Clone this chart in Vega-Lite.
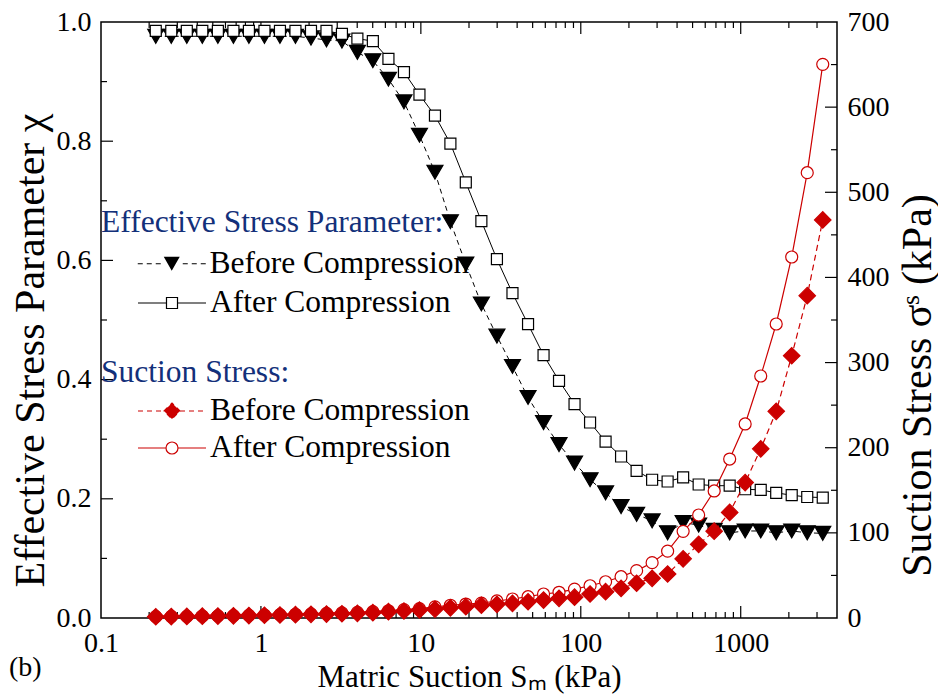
{
  "$schema": "https://vega.github.io/schema/vega-lite/v6.json",
  "width": 736,
  "height": 596,
  "autosize": {"type": "none"},
  "padding": {"left": 101, "top": 22, "right": 101, "bottom": 79},
  "title": {"text": "(b)", "orient": "bottom", "anchor": "start", "frame": "bounds", "font": "Liberation Serif", "fontSize": 28, "fontWeight": "normal", "color": "black", "offset": -38},
  "config": {
    "view": {"stroke": "black", "strokeWidth": 1.5},
    "axis": {"domain": false, "ticks": false, "grid": false, "labelFont": "Liberation Serif", "labelFontSize": 28, "labelColor": "black", "titleFont": "Liberation Serif", "titleFontSize": 31, "titleFontWeight": "normal", "titleColor": "black", "labelFlush": false, "labelOverlap": false},
    "legend": {"labelFont": "Liberation Serif", "labelFontSize": 31.5, "labelColor": "black", "titleFont": "Liberation Serif", "titleFontSize": 31.5, "titleFontWeight": "normal", "titleColor": "#13307a", "padding": 0, "symbolSize": 900, "symbolOffset": 55, "labelOffset": 22, "symbolStrokeWidth": 1.2, "symbolOpacity": 1, "titleLimit": 800, "labelLimit": 800, "orient": "none"}
  },
  "datasets": {
    "main": [
      {"s":0.220,"chiB":0.976,"chiA":0.985,"sigB":1.5,"sigA":1.6},
      {"s":0.275,"chiB":0.976,"chiA":0.985,"sigB":1.7,"sigA":1.8},
      {"s":0.344,"chiB":0.976,"chiA":0.985,"sigB":1.9,"sigA":2.0},
      {"s":0.430,"chiB":0.976,"chiA":0.985,"sigB":2.1,"sigA":2.3},
      {"s":0.538,"chiB":0.976,"chiA":0.985,"sigB":2.3,"sigA":2.5},
      {"s":0.673,"chiB":0.976,"chiA":0.985,"sigB":2.6,"sigA":2.8},
      {"s":0.841,"chiB":0.976,"chiA":0.985,"sigB":2.9,"sigA":3.1},
      {"s":1.052,"chiB":0.976,"chiA":0.985,"sigB":3.2,"sigA":3.5},
      {"s":1.315,"chiB":0.976,"chiA":0.985,"sigB":3.5,"sigA":3.9},
      {"s":1.644,"chiB":0.976,"chiA":0.985,"sigB":3.9,"sigA":4.4},
      {"s":2.056,"chiB":0.973,"chiA":0.985,"sigB":4.3,"sigA":4.9},
      {"s":2.570,"chiB":0.970,"chiA":0.985,"sigB":4.6,"sigA":5.4},
      {"s":3.21,"chiB":0.968,"chiA":0.980,"sigB":5.0,"sigA":6.0},
      {"s":4.01,"chiB":0.949,"chiA":0.972,"sigB":5.5,"sigA":6.7},
      {"s":5.01,"chiB":0.935,"chiA":0.968,"sigB":6.3,"sigA":7.5},
      {"s":6.27,"chiB":0.904,"chiA":0.938,"sigB":7.4,"sigA":8.5},
      {"s":7.84,"chiB":0.866,"chiA":0.916,"sigB":8.2,"sigA":9.8},
      {"s":9.80,"chiB":0.810,"chiA":0.878,"sigB":9.4,"sigA":11.0},
      {"s":12.25,"chiB":0.748,"chiA":0.843,"sigB":10.3,"sigA":13.0},
      {"s":15.3,"chiB":0.665,"chiA":0.796,"sigB":12.0,"sigA":15.0},
      {"s":19.1,"chiB":0.594,"chiA":0.731,"sigB":13.3,"sigA":16.4},
      {"s":23.9,"chiB":0.527,"chiA":0.666,"sigB":15.0,"sigA":17.5},
      {"s":29.9,"chiB":0.473,"chiA":0.602,"sigB":16.1,"sigA":20.0},
      {"s":37.4,"chiB":0.422,"chiA":0.545,"sigB":17.2,"sigA":22.3},
      {"s":46.8,"chiB":0.370,"chiA":0.493,"sigB":19.1,"sigA":25.0},
      {"s":58.5,"chiB":0.328,"chiA":0.441,"sigB":21.1,"sigA":28.2},
      {"s":73.1,"chiB":0.291,"chiA":0.398,"sigB":23.1,"sigA":30.2},
      {"s":91.4,"chiB":0.260,"chiA":0.359,"sigB":24.5,"sigA":34.0},
      {"s":114.3,"chiB":0.232,"chiA":0.328,"sigB":28.2,"sigA":37.9},
      {"s":142.9,"chiB":0.210,"chiA":0.296,"sigB":30.9,"sigA":42.6},
      {"s":178.6,"chiB":0.187,"chiA":0.271,"sigB":34.9,"sigA":48.5},
      {"s":223.4,"chiB":0.174,"chiA":0.247,"sigB":40.8,"sigA":55.6},
      {"s":279.3,"chiB":0.163,"chiA":0.232,"sigB":46.6,"sigA":65.0},
      {"s":349.1,"chiB":0.143,"chiA":0.229,"sigB":51.7,"sigA":78.5},
      {"s":436.5,"chiB":0.160,"chiA":0.236,"sigB":69.5,"sigA":101.8},
      {"s":545.8,"chiB":0.156,"chiA":0.224,"sigB":86.5,"sigA":121.0},
      {"s":682.3,"chiB":0.147,"chiA":0.222,"sigB":102.0,"sigA":149.2},
      {"s":853.1,"chiB":0.143,"chiA":0.222,"sigB":124.0,"sigA":186.7},
      {"s":1066,"chiB":0.146,"chiA":0.216,"sigB":159.0,"sigA":227.9},
      {"s":1334,"chiB":0.146,"chiA":0.215,"sigB":198.7,"sigA":284.2},
      {"s":1667,"chiB":0.143,"chiA":0.210,"sigB":242.7,"sigA":345.3},
      {"s":2084,"chiB":0.146,"chiA":0.206,"sigB":308.0,"sigA":424.0},
      {"s":2606,"chiB":0.143,"chiA":0.203,"sigB":378.6,"sigA":523.0},
      {"s":3258,"chiB":0.142,"chiA":0.202,"sigB":467.5,"sigA":650.3}
    ],
    "xMajor": [{"t":1},{"t":10},{"t":100},{"t":1000}],
    "xMinor": [{"t":0.2},{"t":0.3},{"t":0.4},{"t":0.5},{"t":0.6},{"t":0.7},{"t":0.8},{"t":0.9},{"t":2},{"t":3},{"t":4},{"t":5},{"t":6},{"t":7},{"t":8},{"t":9},{"t":20},{"t":30},{"t":40},{"t":50},{"t":60},{"t":70},{"t":80},{"t":90},{"t":200},{"t":300},{"t":400},{"t":500},{"t":600},{"t":700},{"t":800},{"t":900},{"t":2000},{"t":3000}],
    "chiMajor": [{"t":0.2},{"t":0.4},{"t":0.6},{"t":0.8}],
    "chiMinor": [{"t":0.1},{"t":0.3},{"t":0.5},{"t":0.7},{"t":0.9}],
    "sigMajor": [{"t":100},{"t":200},{"t":300},{"t":400},{"t":500},{"t":600}],
    "sigMinor": [{"t":50},{"t":150},{"t":250},{"t":350},{"t":450},{"t":550},{"t":650}]
  },
  "data": {"name": "main"},
  "resolve": {"scale": {"y": "independent"}, "axis": {"x": "independent", "y": "independent"}},
  "layer": [
    {
      "data": {"name": "xMajor"},
      "mark": {"type": "bar", "size": 1.2, "color": "black"},
      "encoding": {
        "x": {"field": "t", "type": "quantitative", "scale": {"type": "log", "domain": [0.1, 4000], "nice": false, "padding": 0}, "axis": null},
        "y": {"datum": 0, "type": "quantitative", "scale": {"domain": [0, 1], "nice": false, "zero": false, "padding": 0}, "axis": null},
        "y2": {"datum": 0.0201}
      }
    },
    {
      "data": {"name": "xMajor"},
      "mark": {"type": "bar", "size": 1.2, "color": "black"},
      "encoding": {
        "x": {"field": "t", "type": "quantitative", "scale": {"type": "log", "domain": [0.1, 4000], "nice": false, "padding": 0}, "axis": null},
        "y": {"datum": 0.9799, "type": "quantitative", "scale": {"domain": [0, 1], "nice": false, "zero": false, "padding": 0}, "axis": null},
        "y2": {"datum": 1}
      }
    },
    {
      "data": {"name": "xMinor"},
      "mark": {"type": "bar", "size": 1.2, "color": "black"},
      "encoding": {
        "x": {"field": "t", "type": "quantitative", "scale": {"type": "log", "domain": [0.1, 4000], "nice": false, "padding": 0}, "axis": null},
        "y": {"datum": 0, "type": "quantitative", "scale": {"domain": [0, 1], "nice": false, "zero": false, "padding": 0}, "axis": null},
        "y2": {"datum": 0.0101}
      }
    },
    {
      "data": {"name": "xMinor"},
      "mark": {"type": "bar", "size": 1.2, "color": "black"},
      "encoding": {
        "x": {"field": "t", "type": "quantitative", "scale": {"type": "log", "domain": [0.1, 4000], "nice": false, "padding": 0}, "axis": null},
        "y": {"datum": 0.9899, "type": "quantitative", "scale": {"domain": [0, 1], "nice": false, "zero": false, "padding": 0}, "axis": null},
        "y2": {"datum": 1}
      }
    },
    {
      "data": {"name": "chiMajor"},
      "mark": {"type": "bar", "size": 1.2, "color": "black"},
      "encoding": {
        "y": {"field": "t", "type": "quantitative", "scale": {"domain": [0, 1], "nice": false, "zero": false, "padding": 0}, "axis": null},
        "x": {"datum": 0.1, "type": "quantitative", "scale": {"type": "log", "domain": [0.1, 4000], "nice": false, "padding": 0}, "axis": null},
        "x2": {"datum": 0.11885}
      }
    },
    {
      "data": {"name": "chiMinor"},
      "mark": {"type": "bar", "size": 1.2, "color": "black"},
      "encoding": {
        "y": {"field": "t", "type": "quantitative", "scale": {"domain": [0, 1], "nice": false, "zero": false, "padding": 0}, "axis": null},
        "x": {"datum": 0.1, "type": "quantitative", "scale": {"type": "log", "domain": [0.1, 4000], "nice": false, "padding": 0}, "axis": null},
        "x2": {"datum": 0.10902}
      }
    },
    {
      "data": {"name": "sigMajor"},
      "mark": {"type": "bar", "size": 1.2, "color": "black"},
      "encoding": {
        "y": {"field": "t", "type": "quantitative", "scale": {"domain": [0, 700], "nice": false, "zero": false, "padding": 0}, "axis": null},
        "x": {"datum": 3365.6, "type": "quantitative", "scale": {"type": "log", "domain": [0.1, 4000], "nice": false, "padding": 0}, "axis": null},
        "x2": {"datum": 4000}
      }
    },
    {
      "data": {"name": "sigMinor"},
      "mark": {"type": "bar", "size": 1.2, "color": "black"},
      "encoding": {
        "y": {"field": "t", "type": "quantitative", "scale": {"domain": [0, 700], "nice": false, "zero": false, "padding": 0}, "axis": null},
        "x": {"datum": 3669, "type": "quantitative", "scale": {"type": "log", "domain": [0.1, 4000], "nice": false, "padding": 0}, "axis": null},
        "x2": {"datum": 4000}
      }
    },
    {
      "mark": {"type": "line", "color": "black", "strokeWidth": 1, "strokeDash": [5, 4]},
      "encoding": {
        "x": {"field": "s", "type": "quantitative", "scale": {"type": "log", "domain": [0.1, 4000], "nice": false, "padding": 0},
          "axis": {"orient": "bottom", "title": "Matric Suction Sₘ (kPa)", "values": [0.1, 1, 10, 100, 1000],
            "labelExpr": "format(datum.value, '~g')", "labelPadding": 11, "titlePadding": 5}},
        "y": {"field": "chiB", "type": "quantitative", "scale": {"domain": [0, 1], "nice": false, "zero": false, "padding": 0},
          "axis": {"orient": "left", "title": "Effective Stress Parameter χ", "values": [0, 0.2, 0.4, 0.6, 0.8, 1.0],
            "format": ".1f", "labelPadding": 10, "titleFontSize": 42, "titleX": -71, "titleY": 328, "titleBaseline": "middle", "titleAngle": -90}}
      }
    },
    {
      "mark": {"type": "line", "color": "black", "strokeWidth": 1},
      "encoding": {
        "x": {"field": "s", "type": "quantitative", "scale": {"type": "log", "domain": [0.1, 4000], "nice": false, "padding": 0}, "axis": null},
        "y": {"field": "chiA", "type": "quantitative", "scale": {"domain": [0, 1], "nice": false, "zero": false, "padding": 0}, "axis": null}
      }
    },
    {
      "transform": [{"fold": ["chiB"], "as": ["key", "v"]}],
      "mark": {"type": "point", "filled": true, "shape": "M-1,-0.866L1,-0.866L0,0.866Z", "size": 256, "fill": "black", "stroke": "black", "strokeWidth": 1.2, "opacity": 1},
      "encoding": {
        "x": {"field": "s", "type": "quantitative", "scale": {"type": "log", "domain": [0.1, 4000], "nice": false, "padding": 0}, "axis": null},
        "y": {"field": "v", "type": "quantitative", "scale": {"domain": [0, 1], "nice": false, "zero": false, "padding": 0}, "axis": null},
        "opacity": {"field": "key", "type": "nominal", "scale": {"domain": ["chiB"], "range": [1, 1]},
          "legend": {"title": "Effective Stress Parameter:", "orient": "none", "legendX": 0, "legendY": 185, "titlePadding": 9.5,
            "labelExpr": "'Before Compression'",
            "symbolType": "M-2.267,-0.033H-1.933V0.033H-2.267ZM-1.667,-0.033H-1.333V0.033H-1.667ZM-1.067,-0.033H-0.733V0.033H-1.067ZM0.733,-0.033H1.067V0.033H0.733ZM1.333,-0.033H1.667V0.033H1.333ZM1.933,-0.033H2.267V0.033H1.933ZM-0.533,-0.462L0.533,-0.462L0,0.462Z",
            "symbolFillColor": "black", "symbolStrokeColor": "black", "symbolSize": 900, "symbolStrokeWidth": 0.6}}
      }
    },
    {
      "transform": [{"fold": ["chiA"], "as": ["key", "v"]}],
      "mark": {"type": "point", "filled": true, "shape": "square", "size": 121, "fill": "white", "strokeWidth": 1.2, "opacity": 1},
      "encoding": {
        "x": {"field": "s", "type": "quantitative", "scale": {"type": "log", "domain": [0.1, 4000], "nice": false, "padding": 0}, "axis": null},
        "y": {"field": "v", "type": "quantitative", "scale": {"domain": [0, 1], "nice": false, "zero": false, "padding": 0}, "axis": null},
        "stroke": {"field": "key", "type": "nominal", "scale": {"domain": ["chiA"], "range": ["black"]},
          "legend": {"title": null, "orient": "none", "legendX": 0, "legendY": 265,
            "labelExpr": "'After Compression'",
            "symbolType": "M-2.267,0H-0.367M0.367,0H2.267M-0.367,-0.367H0.367V0.367H-0.367Z",
            "symbolFillColor": "white", "symbolSize": 900, "symbolStrokeWidth": 1.2, "symbolOpacity": 1}}
      }
    },
    {
      "mark": {"type": "line", "color": "#cc0000", "strokeWidth": 1.2, "strokeDash": [6, 4]},
      "encoding": {
        "x": {"field": "s", "type": "quantitative", "scale": {"type": "log", "domain": [0.1, 4000], "nice": false, "padding": 0}, "axis": null},
        "y": {"field": "sigB", "type": "quantitative", "scale": {"domain": [0, 700], "nice": false, "zero": false, "padding": 0},
          "axis": {"orient": "right", "title": "Suction Stress σˢ (kPa)", "values": [0, 100, 200, 300, 400, 500, 600, 700],
            "format": "d", "labelPadding": 10, "titleFontSize": 42, "titleX": 80, "titleY": 363, "titleBaseline": "middle", "titleAngle": -90}}
      }
    },
    {
      "mark": {"type": "line", "color": "#cc0000", "strokeWidth": 1.2},
      "encoding": {
        "x": {"field": "s", "type": "quantitative", "scale": {"type": "log", "domain": [0.1, 4000], "nice": false, "padding": 0}, "axis": null},
        "y": {"field": "sigA", "type": "quantitative", "scale": {"domain": [0, 700], "nice": false, "zero": false, "padding": 0}, "axis": null}
      }
    },
    {
      "transform": [{"fold": ["sigA"], "as": ["key", "v"]}],
      "mark": {"type": "point", "filled": true, "shape": "circle", "size": 144, "stroke": "#cc0000", "strokeWidth": 1.2, "opacity": 1},
      "encoding": {
        "x": {"field": "s", "type": "quantitative", "scale": {"type": "log", "domain": [0.1, 4000], "nice": false, "padding": 0}, "axis": null},
        "y": {"field": "v", "type": "quantitative", "scale": {"domain": [0, 700], "nice": false, "zero": false, "padding": 0}, "axis": null},
        "fill": {"field": "key", "type": "nominal", "scale": {"domain": ["sigA"], "range": ["white"]},
          "legend": {"title": null, "orient": "none", "legendX": 0, "legendY": 410,
            "labelExpr": "'After Compression'",
            "symbolType": "M-2.267,0H-0.4M0.4,0H2.267M0.4,0C0.4,0.2209,0.2209,0.4,0,0.4C-0.2209,0.4,-0.4,0.2209,-0.4,0C-0.4,-0.2209,-0.2209,-0.4,0,-0.4C0.2209,-0.4,0.4,-0.2209,0.4,0Z",
            "symbolStrokeColor": "#cc0000", "symbolSize": 900, "symbolStrokeWidth": 1.2, "symbolOpacity": 1}}
      }
    },
    {
      "transform": [{"fold": ["sigB"], "as": ["key", "v"]}],
      "mark": {"type": "point", "filled": true, "shape": "M-1,0L0,-1L1,0L0,1Z", "size": 272, "stroke": "#cc0000", "strokeWidth": 1.2, "opacity": 1},
      "encoding": {
        "x": {"field": "s", "type": "quantitative", "scale": {"type": "log", "domain": [0.1, 4000], "nice": false, "padding": 0}, "axis": null},
        "y": {"field": "v", "type": "quantitative", "scale": {"domain": [0, 700], "nice": false, "zero": false, "padding": 0}, "axis": null},
        "color": {"field": "key", "type": "nominal", "scale": {"domain": ["sigB"], "range": ["#cc0000"]},
          "legend": {"title": "Suction Stress:", "orient": "none", "legendX": 0, "legendY": 335, "titlePadding": 6.5,
            "labelExpr": "'Before Compression'",
            "symbolType": "M-2.267,0H-0.533M0.533,0H2.267M-0.533,0L0,-0.533L0.533,0L0,0.533Z",
            "symbolStrokeColor": "#cc0000", "symbolDash": [5, 4], "symbolSize": 900, "symbolStrokeWidth": 1.2, "symbolOpacity": 1}}
      }
    }
  ]
}
